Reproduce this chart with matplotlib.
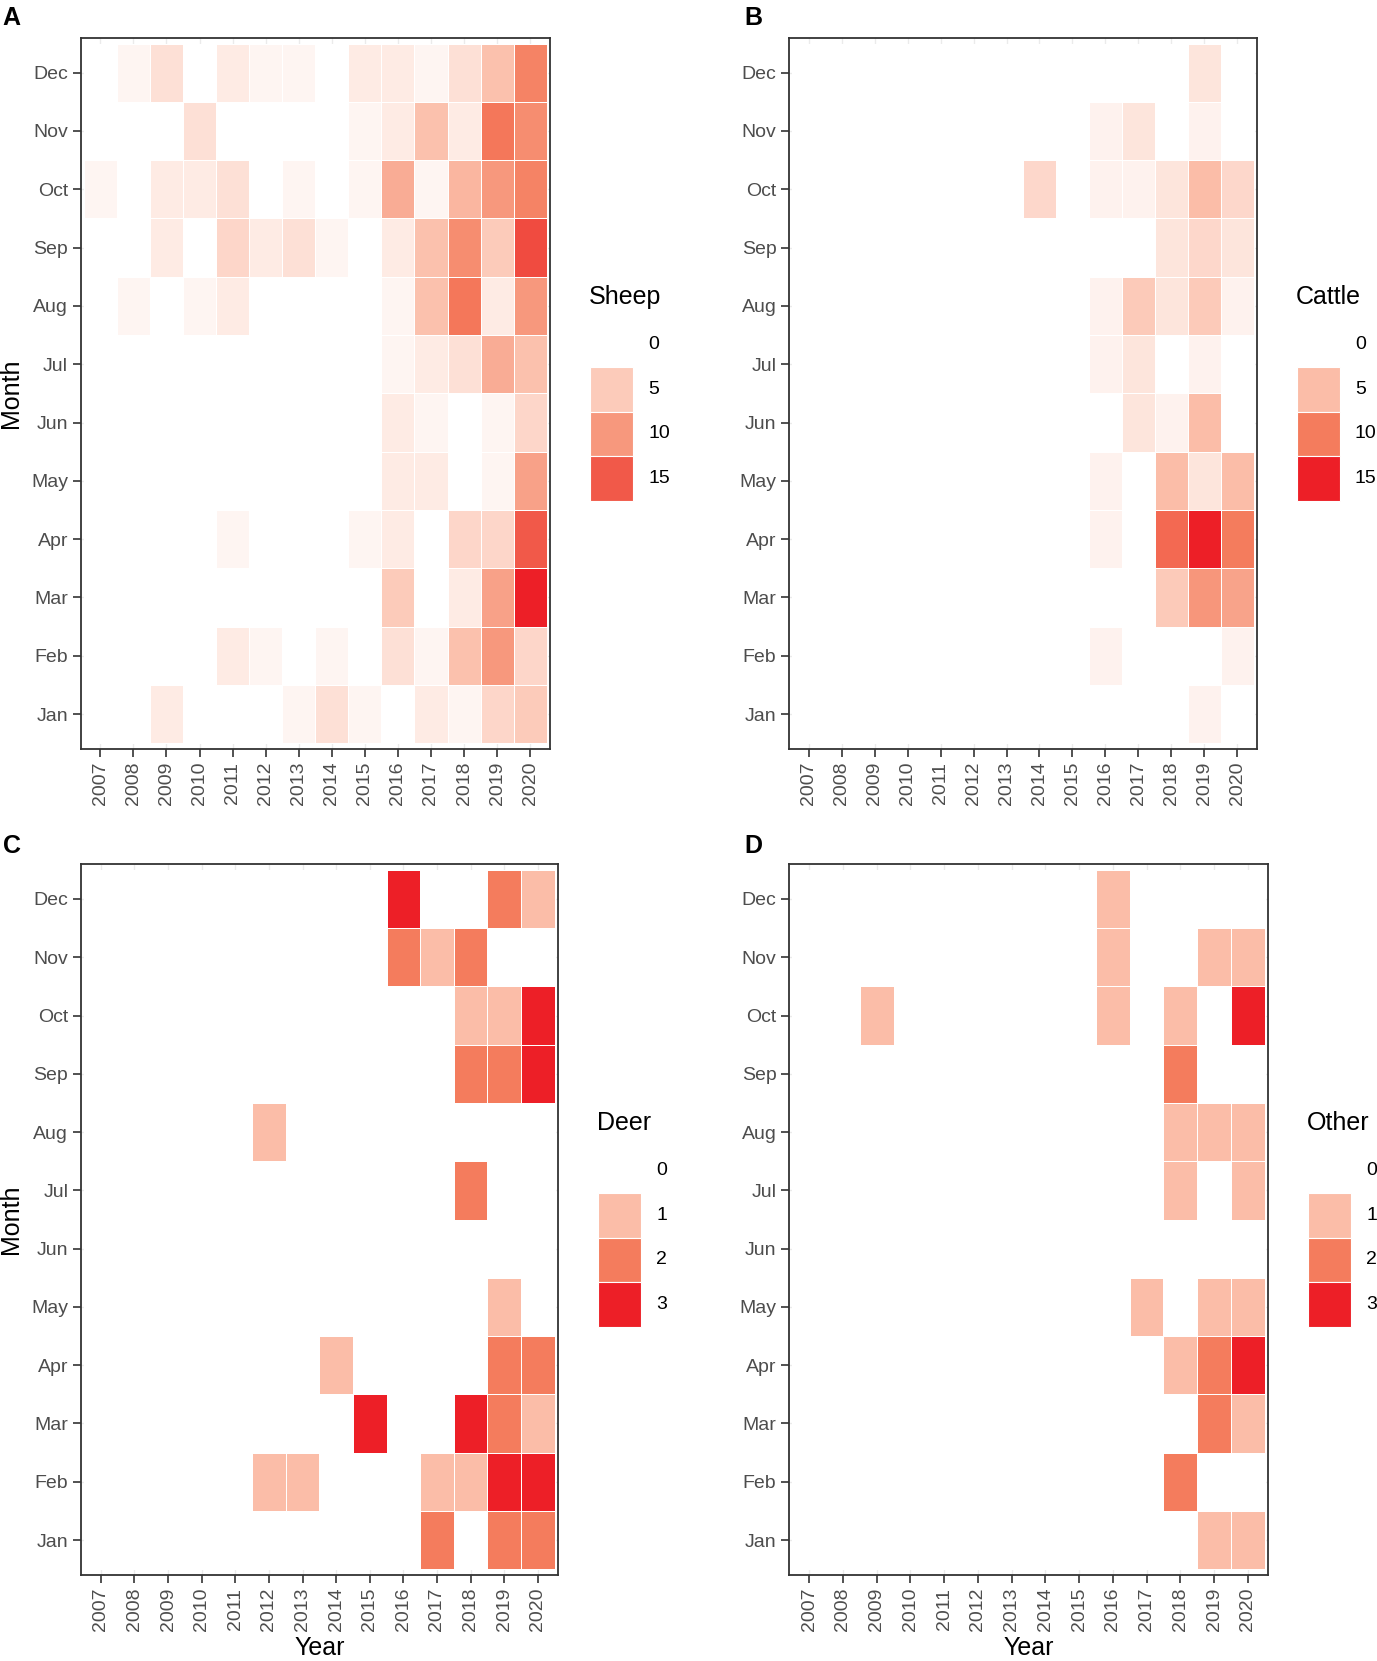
import numpy as np
import matplotlib
matplotlib.use("Agg")
import matplotlib.pyplot as plt
from matplotlib.colors import LinearSegmentedColormap, Normalize
from matplotlib.patches import Rectangle

plt.rcParams['font.family'] = ['Liberation Sans', 'DejaVu Sans']

years = [str(y) for y in range(2007, 2021)]
months = ["Jan", "Feb", "Mar", "Apr", "May", "Jun",
          "Jul", "Aug", "Sep", "Oct", "Nov", "Dec"]

# rows Jan..Dec, columns 2007..2020
sheep = [
    [0, 0, 2, 0, 0, 0, 1, 3, 1, 0, 2, 1, 4, 5],
    [0, 0, 0, 0, 2, 1, 0, 1, 0, 3, 1, 6, 10, 4],
    [0, 0, 0, 0, 0, 0, 0, 0, 0, 5, 0, 2, 9, 19],
    [0, 0, 0, 0, 1, 0, 0, 0, 1, 2, 0, 4, 4, 15],
    [0, 0, 0, 0, 0, 0, 0, 0, 0, 2, 2, 0, 1, 9],
    [0, 0, 0, 0, 0, 0, 0, 0, 0, 2, 1, 0, 1, 4],
    [0, 0, 0, 0, 0, 0, 0, 0, 0, 1, 2, 3, 8, 6],
    [0, 1, 0, 1, 2, 0, 0, 0, 0, 1, 6, 13, 2, 10],
    [0, 0, 2, 0, 4, 2, 3, 1, 0, 2, 6, 11, 5, 16],
    [1, 0, 2, 2, 3, 0, 1, 0, 1, 8, 1, 7, 10, 12],
    [0, 0, 0, 3, 0, 0, 0, 0, 1, 2, 6, 2, 13, 11],
    [0, 1, 3, 0, 2, 1, 1, 0, 2, 2, 1, 3, 6, 12],
]

cattle = [
    [0, 0, 0, 0, 0, 0, 0, 0, 0, 0, 0, 0, 1, 0],
    [0, 0, 0, 0, 0, 0, 0, 0, 0, 1, 0, 0, 0, 1],
    [0, 0, 0, 0, 0, 0, 0, 0, 0, 0, 0, 4, 8, 7],
    [0, 0, 0, 0, 0, 0, 0, 0, 0, 1, 0, 11, 15, 10],
    [0, 0, 0, 0, 0, 0, 0, 0, 0, 1, 0, 5, 2, 5],
    [0, 0, 0, 0, 0, 0, 0, 0, 0, 0, 2, 1, 5, 0],
    [0, 0, 0, 0, 0, 0, 0, 0, 0, 1, 2, 0, 1, 0],
    [0, 0, 0, 0, 0, 0, 0, 0, 0, 1, 4, 2, 4, 1],
    [0, 0, 0, 0, 0, 0, 0, 0, 0, 0, 0, 2, 3, 2],
    [0, 0, 0, 0, 0, 0, 0, 3, 0, 1, 1, 2, 5, 3],
    [0, 0, 0, 0, 0, 0, 0, 0, 0, 1, 2, 0, 1, 0],
    [0, 0, 0, 0, 0, 0, 0, 0, 0, 0, 0, 0, 2, 0],
]

deer = [
    [0, 0, 0, 0, 0, 0, 0, 0, 0, 0, 2, 0, 2, 2],
    [0, 0, 0, 0, 0, 1, 1, 0, 0, 0, 1, 1, 3, 3],
    [0, 0, 0, 0, 0, 0, 0, 0, 3, 0, 0, 3, 2, 1],
    [0, 0, 0, 0, 0, 0, 0, 1, 0, 0, 0, 0, 2, 2],
    [0, 0, 0, 0, 0, 0, 0, 0, 0, 0, 0, 0, 1, 0],
    [0, 0, 0, 0, 0, 0, 0, 0, 0, 0, 0, 0, 0, 0],
    [0, 0, 0, 0, 0, 0, 0, 0, 0, 0, 0, 2, 0, 0],
    [0, 0, 0, 0, 0, 1, 0, 0, 0, 0, 0, 0, 0, 0],
    [0, 0, 0, 0, 0, 0, 0, 0, 0, 0, 0, 2, 2, 3],
    [0, 0, 0, 0, 0, 0, 0, 0, 0, 0, 0, 1, 1, 3],
    [0, 0, 0, 0, 0, 0, 0, 0, 0, 2, 1, 2, 0, 0],
    [0, 0, 0, 0, 0, 0, 0, 0, 0, 3, 0, 0, 2, 1],
]

other = [
    [0, 0, 0, 0, 0, 0, 0, 0, 0, 0, 0, 0, 1, 1],
    [0, 0, 0, 0, 0, 0, 0, 0, 0, 0, 0, 2, 0, 0],
    [0, 0, 0, 0, 0, 0, 0, 0, 0, 0, 0, 0, 2, 1],
    [0, 0, 0, 0, 0, 0, 0, 0, 0, 0, 0, 1, 2, 3],
    [0, 0, 0, 0, 0, 0, 0, 0, 0, 0, 1, 0, 1, 1],
    [0, 0, 0, 0, 0, 0, 0, 0, 0, 0, 0, 0, 0, 0],
    [0, 0, 0, 0, 0, 0, 0, 0, 0, 0, 0, 1, 0, 1],
    [0, 0, 0, 0, 0, 0, 0, 0, 0, 0, 0, 1, 1, 1],
    [0, 0, 0, 0, 0, 0, 0, 0, 0, 0, 0, 2, 0, 0],
    [0, 0, 1, 0, 0, 0, 0, 0, 0, 1, 0, 1, 0, 3],
    [0, 0, 0, 0, 0, 0, 0, 0, 0, 1, 0, 0, 1, 1],
    [0, 0, 0, 0, 0, 0, 0, 0, 0, 1, 0, 0, 0, 0],
]

breaks_big = [0, 5, 10, 15]
breaks_small = [0, 1, 2, 3]

# white -> red gradient, colours picked off the reference legend
cmap = LinearSegmentedColormap.from_list(
    "wr", [(0, "#FFFFFF"), (1 / 3, "#FBBDA8"), (2 / 3, "#F47C5D"), (1, "#ED1F27")])

W, H = 1377, 1661
fig = plt.figure(figsize=(W / 100, H / 100), dpi=100)


def fx(p):
    return p / W


def fy(p):
    return 1 - p / H


panels = [
    ("A", sheep, "Sheep", breaks_big, (80.5, 37.7, 550, 749), True, False),
    ("B", cattle, "Cattle", breaks_big, (789, 37.7, 1257, 749), False, False),
    ("C", deer, "Deer", breaks_small, (80.7, 864, 558, 1575), True, True),
    ("D", other, "Other", breaks_small, (789, 864, 1268, 1575), False, True),
]

for letter, data, name, brks, (l, t, r, b), ylab, xlab in panels:
    ax = fig.add_axes([fx(l), fy(b), fx(r) - fx(l), fy(t) - fy(b)])
    z = np.array(data, float)
    norm = Normalize(vmin=0, vmax=z.max())
    ax.set_axisbelow(True)
    ax.grid(True, color="#EBEBEB", lw=1.0)
    ax.pcolormesh(np.arange(15) - 0.5, np.arange(13) - 0.5, z, cmap=cmap, norm=norm,
                  edgecolors="white", linewidth=0.4)
    ax.set_xlim(-0.6, 13.6)
    ax.set_ylim(-0.6, 11.6)
    ax.set_xticks(range(14))
    ax.set_xticklabels(years, rotation=90)
    ax.set_yticks(range(12))
    ax.set_yticklabels(months)
    ax.tick_params(length=6, width=1.2, color="#333333", labelcolor="#4D4D4D",
                   labelsize=14, pad=3)
    for s in ax.spines.values():
        s.set_linewidth(1.3)
        s.set_color("#333333")

    fig.text(fx(l - 78 if letter in "AC" else l - 45), fy(25 if t < 100 else 853), letter,
             fontsize=18, fontweight="bold", va="baseline", ha="left")
    if ylab:
        fig.text(fx(11), fy((t + b) / 2), "Month", rotation=90, fontsize=18,
                 ha="center", va="center")
    if xlab:
        fig.text(fx((l + r) / 2), fy(1648), "Year", fontsize=18, ha="center", va="center")

    # legend
    cy = (t + b) / 2
    kl = r + 40
    kw, kh = 43, 44.6
    fig.text(fx(kl - 1), fy(cy - 96), name, fontsize=18, ha="left", va="center")
    k0 = cy - 71
    for i, v in enumerate(brks):
        kt = k0 + i * kh
        fig.patches.append(Rectangle((fx(kl), fy(kt + kh)), fx(kw), kh / H,
                                     transform=fig.transFigure, facecolor=cmap(norm(v)),
                                     edgecolor="white", lw=0.8))
        fig.text(fx(kl + 58), fy(kt + kh / 2), str(v), fontsize=14, ha="left", va="center")

fig.savefig("out.png", dpi=100)
